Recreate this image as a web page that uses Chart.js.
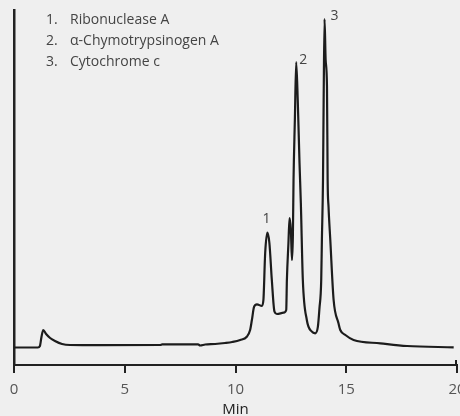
<!DOCTYPE html>
<html>
<head>
<meta charset="utf-8">
<script src="https://cdn.jsdelivr.net/npm/chart.js@4/dist/chart.umd.min.js"></script>
<style>
  html, body { margin: 0; padding: 0; background: #efefef; }
  #wrap { width: 460px; height: 416px; position: relative; }
</style>
</head>
<body>
<div id="wrap"><canvas id="chromatogram"></canvas></div>
<script>
// retention time (min) and detector response (relative units, 0-100)
const retentionMin = [
  0, 1.08, 1.17, 1.24, 1.32, 1.45, 1.63, 1.85, 2.17, 2.53,
  3.89, 6.60, 6.69, 8.31, 8.40, 8.63, 9.08, 9.53, 9.85, 10.21,
  10.51, 10.66, 10.74, 10.84, 10.97, 11.19, 11.26, 11.34, 11.44, 11.53,
  11.64, 11.76, 11.87, 12.17, 12.29, 12.32, 12.39, 12.44, 12.50, 12.55,
  12.59, 12.62, 12.68, 12.74, 12.81, 12.89, 12.95, 13.04, 13.22, 13.45,
  13.60, 13.72, 13.79, 13.87, 13.90, 13.95, 13.98, 14.02, 14.07, 14.13,
  14.16, 14.20, 14.28, 14.43, 14.65, 14.73, 14.96, 15.33, 16.54, 17.74,
  19.85
];
const response = [
  4.93, 4.93, 5.35, 7.89, 9.86, 8.73, 7.61, 6.76, 5.92, 5.63,
  5.58, 5.63, 5.83, 5.83, 5.49, 5.77, 5.92, 6.20, 6.48, 7.04,
  7.97, 9.86, 12.68, 16.42, 17.10, 16.62, 18.31, 31.55, 37.27, 34.37,
  23.94, 15.01, 14.37, 14.73, 15.49, 23.94, 34.37, 41.41, 38.03, 29.58,
  36.14, 52.11, 69.00, 85.35, 74.65, 56.90, 45.63, 23.94, 12.68, 9.38,
  8.93, 10.79, 15.97, 23.94, 35.20, 52.11, 74.65, 97.46, 85.90, 78.40,
  52.11, 44.60, 35.20, 18.31, 11.75, 9.86, 8.45, 7.04, 6.11, 5.35,
  4.99
];

const peakNumbers = ['1', '2', '3'];
const peakTimes = [11.44, 12.74, 14.02];
const peakHeights = [37.27, 85.35, 97.46];
const compounds = ['Ribonuclease A', 'α-Chymotrypsinogen A', 'Cytochrome c'];
const xTicks = [0, 5, 10, 15, 20];

const FONT = '"Open Sans", "Noto Sans", sans-serif';
const labelOffsets = [[-1, -14], [7, -2], [10, -3]];

const peakLabels = {
  id: 'peakLabels',
  afterDatasetsDraw(chart) {
    const { ctx, scales: { x, y } } = chart;
    ctx.save();
    ctx.fillStyle = '#444';
    ctx.font = '14px ' + FONT;
    ctx.textAlign = 'center';
    ctx.textBaseline = 'middle';
    peakNumbers.forEach((num, i) => {
      const px = x.getPixelForValue(peakTimes[i]) + labelOffsets[i][0];
      const py = y.getPixelForValue(peakHeights[i]) + labelOffsets[i][1];
      ctx.fillText(num, px, py);
    });

    // compound list, top left
    ctx.textAlign = 'left';
    ctx.textBaseline = 'alphabetic';
    compounds.forEach((name, i) => {
      const rowY = 24 + i * 21;
      ctx.fillText(peakNumbers[i] + '.', 46, rowY);
      ctx.fillText(name, 70, rowY);
    });

    // end ticks poke up above the axis a little
    ctx.strokeStyle = '#222';
    ctx.lineWidth = 2;
    [xTicks[0], xTicks[xTicks.length - 1]].forEach(v => {
      const px = Math.round(x.getPixelForValue(v)) - (v === 0 ? 0 : 1);
      ctx.beginPath();
      ctx.moveTo(px, y.bottom - 5);
      ctx.lineTo(px, y.bottom);
      ctx.stroke();
    });
    ctx.restore();
  }
};

new Chart(document.getElementById('chromatogram'), {
  type: 'line',
  data: {
    datasets: [{
      data: retentionMin.map((t, i) => ({ x: t, y: response[i] })),
      borderColor: '#1c1c1c',
      borderWidth: 2.2,
      borderJoinStyle: 'round',
      pointRadius: 0,
      cubicInterpolationMode: 'monotone',
      fill: false
    }]
  },
  options: {
    responsive: true,
    maintainAspectRatio: false,
    animation: false,
    layout: { padding: { left: 0, right: 3, top: 10, bottom: 0 } },
    plugins: { legend: { display: false }, tooltip: { enabled: false } },
    scales: {
      x: {
        type: 'linear',
        min: 0,
        max: 20,
        afterBuildTicks: scale => { scale.ticks = xTicks.map(v => ({ value: v })); },
        afterFit: scale => { scale.height = 51; scale.paddingLeft = 0; scale.paddingRight = 0; },
        ticks: { color: '#555', font: { family: FONT, size: 15 }, padding: 8, maxRotation: 0 },
        grid: { drawOnChartArea: false, drawTicks: true, tickLength: 8, color: '#222', lineWidth: 2 },
        border: { display: true, color: '#222', width: 2 },
        title: { display: true, text: 'Min', color: '#222', font: { family: FONT, size: 15 }, padding: { top: 0, bottom: -3 } }
      },
      y: {
        min: 0,
        max: 100,
        afterFit: scale => { scale.width = 14; },
        ticks: { display: false },
        grid: { display: false },
        border: { display: true, color: '#222', width: 2.5 }
      }
    }
  },
  plugins: [peakLabels]
});
</script>
</body>
</html>
